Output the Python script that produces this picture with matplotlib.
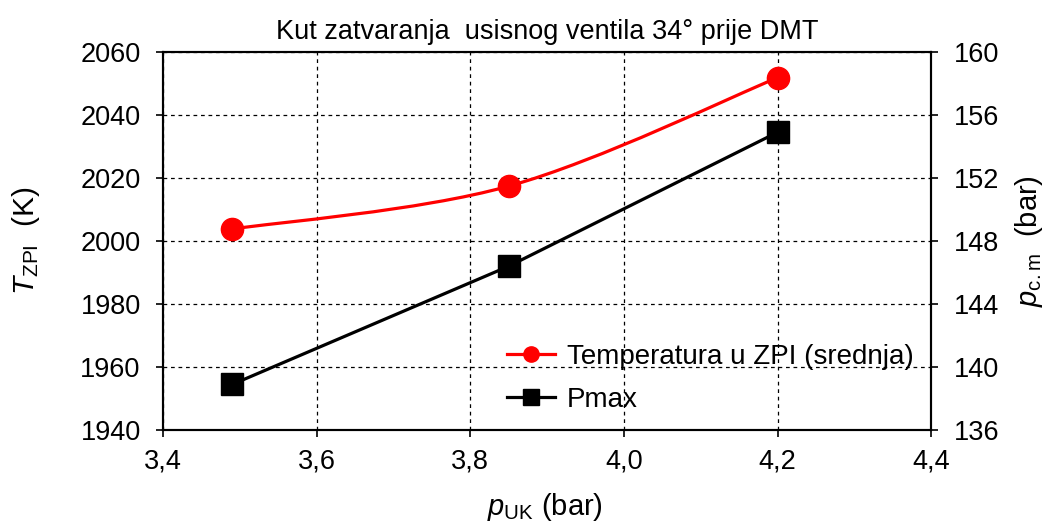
import numpy as np
import matplotlib
matplotlib.use("Agg")
import matplotlib.pyplot as plt
from matplotlib.path import Path
from matplotlib.patches import PathPatch
from matplotlib.lines import Line2D
from matplotlib.ticker import FuncFormatter

plt.rcParams['font.family'] = ['Liberation Sans', 'DejaVu Sans']
plt.rcParams['mathtext.fontset'] = 'custom'
plt.rcParams['mathtext.rm'] = 'Liberation Sans'
plt.rcParams['mathtext.it'] = 'Liberation Sans:italic'

# data
p_uk = [3.49, 3.85, 4.20]
t_zpi = [2003.8, 2017.4, 2051.8]
p_max = [138.9, 146.4, 154.9]

x_ticks = [3.4, 3.6, 3.8, 4.0, 4.2, 4.4]
left_ticks = [1940, 1960, 1980, 2000, 2020, 2040, 2060]
right_ticks = [136, 140, 144, 148, 152, 156, 160]


def smooth_path(xs, ys, tension=1 / 6):
    # Excel-like smoothed line: cubic bezier segments through the points
    pts = np.column_stack([xs, ys])
    verts = [tuple(pts[0])]
    codes = [Path.MOVETO]
    n = len(pts)
    for i in range(n - 1):
        p0 = pts[max(i - 1, 0)]
        p1 = pts[i]
        p2 = pts[i + 1]
        p3 = pts[min(i + 2, n - 1)]
        c1 = p1 + (p2 - p0) * tension
        c2 = p2 - (p3 - p1) * tension
        verts += [tuple(c1), tuple(c2), tuple(p2)]
        codes += [Path.CURVE4] * 3
    return Path(verts, codes)


fig = plt.figure(figsize=(10.51, 5.24), dpi=100)
ax = fig.add_axes([0.155, 0.179, 0.731, 0.722])
ax2 = ax.twinx()

red = '#ff0000'
ax.add_patch(PathPatch(smooth_path(p_uk, t_zpi), facecolor='none',
                       edgecolor=red, lw=2.3, zorder=3))
ax.plot(p_uk, t_zpi, ls='none', marker='o', ms=16, color=red, zorder=4)
ax2.plot(p_uk, p_max, color='black', lw=2.3, marker='s', ms=16, zorder=4)

ax.set_xlim(3.4, 4.4)
ax.set_ylim(1940, 2060)
ax2.set_ylim(136, 160)
ax.set_xticks(x_ticks)
ax.set_yticks(left_ticks)
ax2.set_yticks(right_ticks)
ax.xaxis.set_major_formatter(FuncFormatter(lambda v, _: f"{v:.1f}".replace('.', ',')))

ax.grid(True, color='black', ls=(0, (3, 3)), lw=0.9)
ax.set_axisbelow(True)
for a in (ax, ax2):
    for s in a.spines.values():
        s.set_linewidth(1.5)
    a.tick_params(labelsize=19.5, length=5, width=1.2, direction='out', pad=11)
ax.tick_params(axis='x', pad=8)

ax.set_xlabel(r'$p_{\mathrm{UK}}$ (bar)', fontsize=21)
ax.set_ylabel(r'$T_{\mathrm{ZPI}}$  (K)', fontsize=21.5)
ax2.set_ylabel(r'$p_{\mathrm{c.m}}$  (bar)', fontsize=21)
ax.xaxis.set_label_coords(0.497, -0.16)
ax.yaxis.set_label_coords(-0.158, 0.5)
ax2.yaxis.set_label_coords(1.106, 0.5)
ax.set_title('Kut zatvaranja  usisnog ventila 34° prije DMT', fontsize=19.5, pad=9)

handles = [
    Line2D([], [], color=red, lw=2.3, marker='o', ms=11),
    Line2D([], [], color='black', lw=2.3, marker='s', ms=12),
]
ax2.legend(handles, ['Temperatura u ZPI (srednja)', 'Pmax'], loc='lower right',
           bbox_to_anchor=(1.01, -0.02), frameon=False, fontsize=20,
           handlelength=1.7, handletextpad=0.45, labelspacing=0.6)

fig.savefig('out.png', dpi=100)
